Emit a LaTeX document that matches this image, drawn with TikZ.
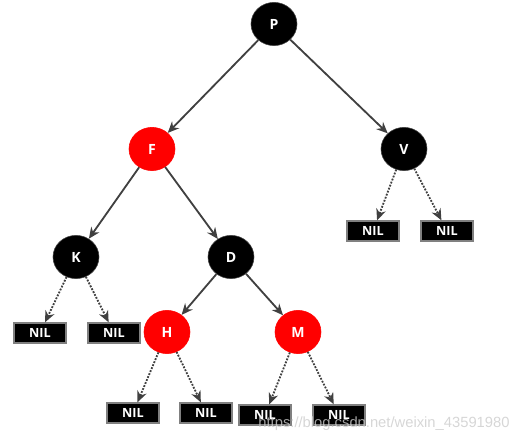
\documentclass[tikz,border=0pt]{standalone}
\usepackage{fontspec}
\setsansfont{Open Sans}
\newfontfamily\wmfont{Liberation Sans}
\usetikzlibrary{arrows.meta,positioning,shapes.geometric}
\definecolor{edgegray}{RGB}{64,64,64}
\definecolor{nodered}{RGB}{255,0,0}
\tikzset{
  blk/.style={draw=edgegray,ellipse,fill=black,text=white,inner sep=0pt,
    minimum width=1.15cm,minimum height=1.08cm,font=\sffamily\bfseries\normalsize},
  rd/.style={blk,draw=nodered,fill=nodered},
  nil/.style={draw=gray,fill=black,text=white,inner sep=0pt,line width=1pt,
    minimum width=1.3cm,minimum height=0.5cm,font=\sffamily\bfseries\small},
  edge/.style={-{Stealth[length=8pt,width=7pt]},edgegray,line width=1.3pt},
  niledge/.style={edge,densely dotted}
}
\begin{document}
\begin{tikzpicture}[x=0.025cm,y=-0.025cm]
\useasboundingbox (0,0) rectangle (532,444);
% tree nodes
\node[blk] (p) at (274,24) {P};
\node[rd] (f) at (152,149) {F};
\node[blk] (v) at (404,149) {V};
\node[blk] (k) at (76,257) {K};
\node[blk] (d) at (231,257) {D};
\node[rd] (h) at (167,332) {H};
\node[rd] (m) at (298,332) {M};
% leaves
\node[nil] (v1) at (373,231) {NIL};
\node[nil] (v2) at (447,231) {NIL};
\node[nil] (k1) at (40,333) {NIL};
\node[nil] (k2) at (114,333) {NIL};
\node[nil] (h1) at (133,413) {NIL};
\node[nil] (h2) at (206,413) {NIL};
\node[nil] (m1) at (265,415) {NIL};
\node[nil] (m2) at (339,415) {NIL};
% edges
\draw[edge] (p) -- (f);
\draw[edge] (p) -- (v);
\draw[edge] (f) -- (k);
\draw[edge] (f) -- (d);
\draw[edge] (d) -- (h);
\draw[edge] (d) -- (m);
\draw[niledge] (v) -- (v1);
\draw[niledge] (v) -- (v2);
\draw[niledge] (k) -- (k1);
\draw[niledge] (k) -- (k2);
\draw[niledge] (h) -- (h1);
\draw[niledge] (h) -- (h2);
\draw[niledge] (m) -- (m1);
\draw[niledge] (m) -- (m2);
\node[text=gray!40,opacity=.8,font=\wmfont\fontsize{10.5}{12}\selectfont] (wm) at (384,424) {https://blog.csdn.net/weixin\_43591980};
\end{tikzpicture}
\end{document}
